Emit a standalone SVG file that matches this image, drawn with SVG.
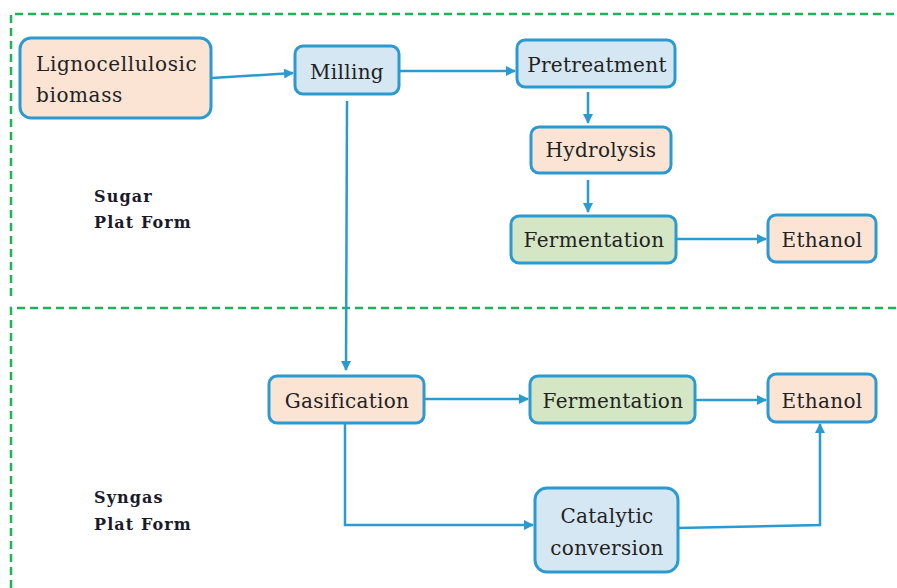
<svg xmlns="http://www.w3.org/2000/svg" width="897" height="588" viewBox="0 0 897 588">
<style>
.zone{fill:none;stroke:#1fb25a;stroke-width:2.5;stroke-dasharray:8,5}
.n rect{stroke:#2b9ad0;stroke-width:3}
.peach{fill:#fce4d4}
.blue{fill:#d5e7f3}
.green{fill:#d4e6c4}
.n text{font-family:'DejaVu Serif',serif;font-size:20px;fill:#222;letter-spacing:0.3px;text-anchor:middle}
.lab{font-family:'DejaVu Serif',serif;font-size:16px;font-weight:bold;fill:#1a1a2a;letter-spacing:1.1px}
.c path{fill:none;stroke:#2b9ad0;stroke-width:2.5;marker-end:url(#ah)}
</style>
<defs>
<marker id="ah" viewBox="0 0 10 10" refX="9" refY="5" markerWidth="4" markerHeight="4" orient="auto" markerUnits="strokeWidth">
<path d="M0,0 L10,5 L0,10 z" fill="#2b9ad0"/>
</marker>
</defs>
<rect width="897" height="588" fill="#fff"/>
<g id="zones">
<path class="zone" d="M11,296 V14 H897"/>
<path class="zone" d="M11,588 V308 H897"/>
</g>
<text class="lab" x="94" y="202">Sugar</text>
<text class="lab" x="94" y="228">Plat Form</text>
<text class="lab" x="94" y="503">Syngas</text>
<text class="lab" x="94" y="530">Plat Form</text>
<g class="c" id="connectors">
<path d="M212,78 L293,73"/>
<path d="M399,71 H515"/>
<path d="M588,92 V123"/>
<path d="M588,180 V212"/>
<path d="M676,239 H766"/>
<path d="M347,101 L346,370"/>
<path d="M424,399 H528"/>
<path d="M695,400 H766"/>
<path d="M345,423 V525 H533"/>
<path d="M678,528 L820,525 V424"/>
</g>
<g class="n" id="biomass"><rect class="peach" x="20" y="38" width="191" height="80" rx="11"/><text x="36" y="71" style="text-anchor:start;letter-spacing:0.6px">Lignocellulosic</text><text x="36" y="102" style="text-anchor:start;letter-spacing:0.6px">biomass</text></g>
<g class="n" id="milling"><rect class="blue" x="295" y="46" width="104" height="48" rx="8"/><text x="347" y="79">Milling</text></g>
<g class="n" id="pretreatment"><rect class="blue" x="517" y="40" width="158" height="47" rx="8"/><text x="597" y="72">Pretreatment</text></g>
<g class="n" id="hydrolysis"><rect class="peach" x="531" y="127" width="140" height="46" rx="8"/><text x="601" y="157">Hydrolysis</text></g>
<g class="n" id="fermentation1"><rect class="green" x="511" y="216" width="165" height="47" rx="8"/><text x="594" y="247">Fermentation</text></g>
<g class="n" id="ethanol1"><rect class="peach" x="768" y="215" width="108" height="47" rx="8"/><text x="822" y="247">Ethanol</text></g>
<g class="n" id="gasification"><rect class="peach" x="269" y="376" width="155" height="47" rx="8"/><text x="347" y="408">Gasification</text></g>
<g class="n" id="fermentation2"><rect class="green" x="530" y="376" width="165" height="47" rx="8"/><text x="613" y="408">Fermentation</text></g>
<g class="n" id="ethanol2"><rect class="peach" x="768" y="374" width="108" height="48" rx="8"/><text x="822" y="408">Ethanol</text></g>
<g class="n" id="catalytic"><rect class="blue" x="535" y="488" width="143" height="84" rx="12"/><text x="607" y="523">Catalytic</text><text x="607" y="555">conversion</text></g>
</svg>
